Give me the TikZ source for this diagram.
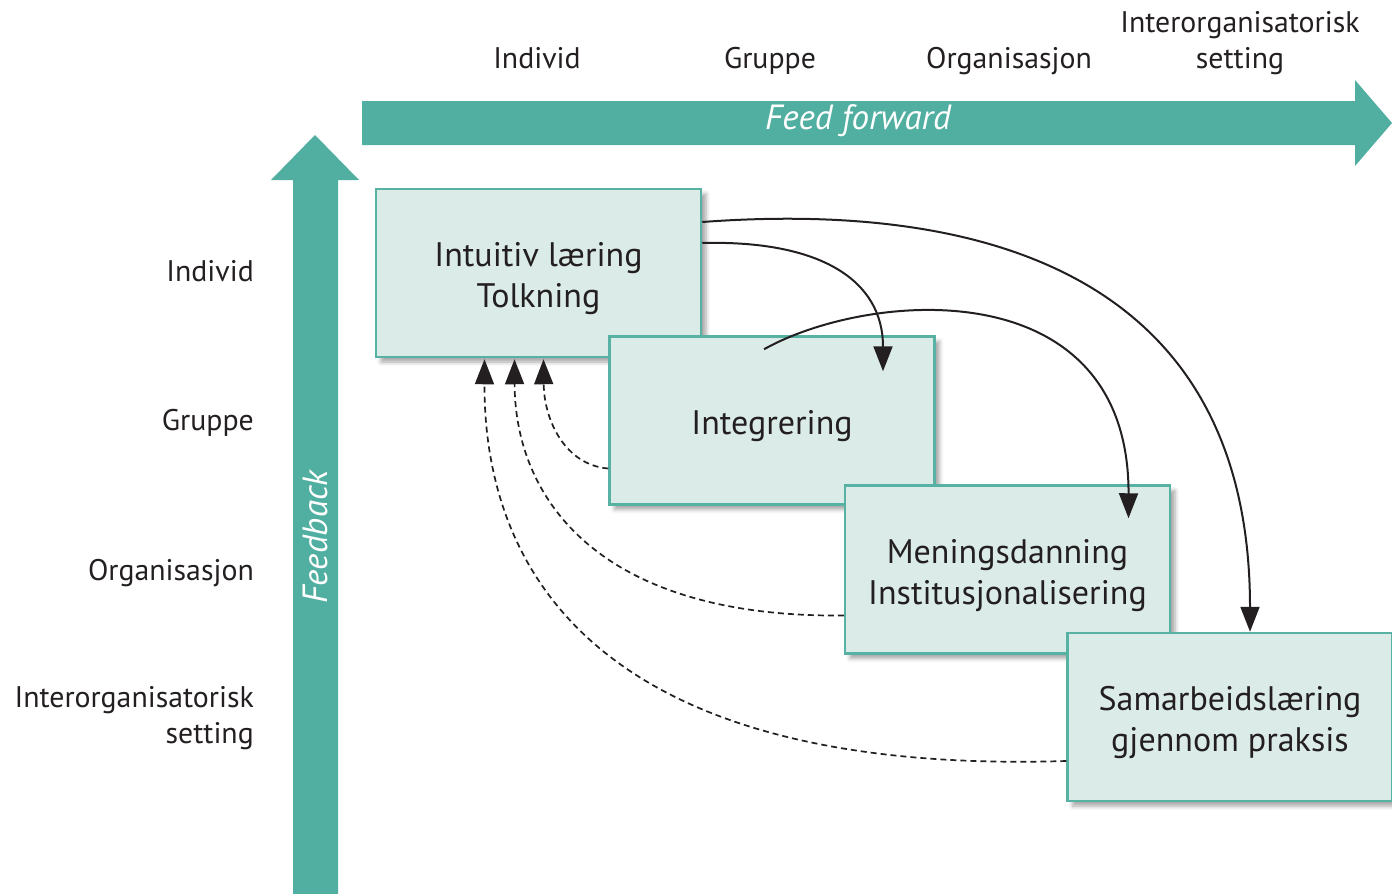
\documentclass[tikz,border=0pt]{standalone}
\usepackage{fontspec}
\setmainfont{PT Sans}
\usetikzlibrary{arrows.meta,shadows.blur}
\definecolor{teal}{RGB}{80,175,160}
\definecolor{boxline}{RGB}{88,178,163}
\definecolor{boxfill}{RGB}{219,235,231}
\definecolor{ink}{RGB}{35,31,32}
% extra headroom on the first line, so box texts sit a little low
\newcommand{\toproom}{\rule{0pt}{36pt}}
\begin{document}
\begin{tikzpicture}[x=1pt,y=-1pt,
  stagebox/.style={draw=boxline, line width=2.5pt, fill=boxfill,
    minimum width=325pt, minimum height=168pt, inner sep=0pt, align=center,
    text=ink, font=\fontsize{34}{41}\selectfont,
    blur shadow={shadow xshift=5pt, shadow yshift=-5pt, shadow blur radius=4pt, shadow opacity=35}},
  levellabel/.style={text=ink, font=\fontsize{29.8}{36}\selectfont, inner sep=0pt},
  arrowlabel/.style={text=white, font=\fontsize{35}{40}\selectfont\itshape, inner sep=0pt},
  forward/.style={draw=ink, line width=2pt, -{Triangle[length=25pt,width=19pt]}},
  feedback/.style={draw=ink, line width=1.7pt, dash pattern=on 6pt off 4pt,
    -{Triangle[length=25pt,width=19pt]}}]
\useasboundingbox (0,0) rectangle (1392,894);

% broad arrows
\fill[teal] (362,101) -- (1355,101) -- (1355,80) -- (1392,123) -- (1355,166)
  -- (1355,145) -- (362,145) -- cycle;
\fill[teal] (293,894) -- (293,180) -- (271,180) -- (315,135) -- (359,180)
  -- (338,180) -- (338,894) -- cycle;
\node[arrowlabel] (ff) at (858,121) {Feed forward};
\node[arrowlabel, rotate=90] (fb) at (315,537) {Feedback};

% level labels along the top
\node[levellabel, anchor=base] (tInd) at (537,68) {Individ};
\node[levellabel, anchor=base] (tGrp) at (770,68) {Gruppe};
\node[levellabel, anchor=base] (tOrg) at (1009,68) {Organisasjon};
\node[levellabel, anchor=base, align=center] (tInt) at (1240,68) {Interorganisatorisk\\setting};

% level labels along the side
\node[levellabel, anchor=base east] (sInd) at (254,281) {Individ};
\node[levellabel, anchor=base east] (sGrp) at (254,430) {Gruppe};
\node[levellabel, anchor=base east] (sOrg) at (254,580) {Organisasjon};
\node[levellabel, anchor=base east, align=right] (sInt) at (254,743) {Interorganisatorisk\\setting};

% learning stages
\node[stagebox] (b1) at (538.5,273) {\toproom Intuitiv læring\\Tolkning};
\node[stagebox] (b2) at (772,420.5) {\toproom Integrering};
\node[stagebox] (b3) at (1007.5,569.5) {\toproom Meningsdanning\\Institusjonalisering};
\node[stagebox] (b4) at (1230,717) {\toproom Samarbeidslæring\\gjennom praksis};

% feed forward connectors
\draw[forward] ([yshift=30pt]b1.east) .. controls (820,240) and (883,280) .. ([xshift=111pt,yshift=-36pt]b2.north);
\draw[forward] ([yshift=51pt]b1.east) .. controls (1000,200) and (1250,285) .. ([xshift=20pt]b4.north);
\draw[forward] ([xshift=-8pt,yshift=-14pt]b2.north) .. controls (870,290) and (1129,270) .. ([xshift=121pt,yshift=-34pt]b3.north);

% feedback connectors
\draw[feedback] ([yshift=-48pt]b2.west) .. controls (565,465) and (544,420) .. ([xshift=5pt,yshift=-1pt]b1.south);
\draw[feedback] ([yshift=-46pt]b3.west) .. controls (600,618) and (515,500) .. ([xshift=-24pt,yshift=-1pt]b1.south);
\draw[feedback] ([yshift=-44pt]b4.west) .. controls (620,775) and (484,590) .. ([xshift=-54pt,yshift=-1pt]b1.south);
\end{tikzpicture}
\end{document}
